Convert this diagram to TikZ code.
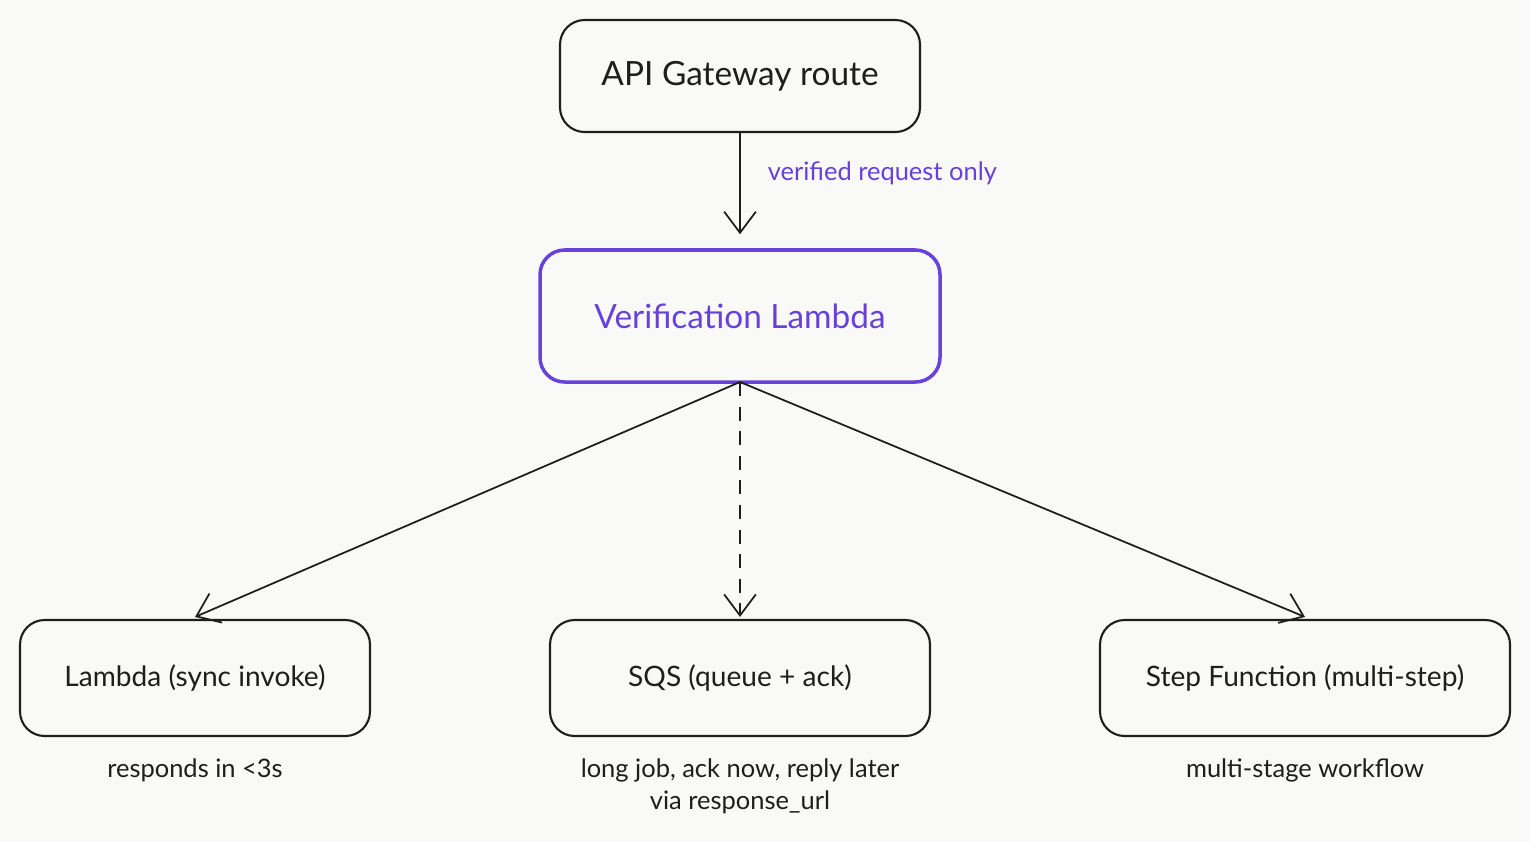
\documentclass[tikz,border=0pt]{standalone}
\usepackage{fontspec}
\setmainfont{Lato}
\usetikzlibrary{arrows.meta}
\definecolor{bg}{HTML}{F9F9F7}
\definecolor{purp}{HTML}{6741D9}
\definecolor{ink}{HTML}{1E1E1E}
\begin{document}
\begin{tikzpicture}[x=0.02cm,y=-0.02cm,
  box/.style={draw=ink,line width=1.2pt,rounded corners=14pt,fill=bg,font=\fontsize{16}{19}\selectfont,text=ink,inner sep=0pt},
  arr/.style={draw=ink,line width=1pt,-{Straight Barb[length=12pt,width=18pt]}},
  lab/.style={font=\fontsize{14.5}{18}\selectfont,text=ink,align=center}]
\fill[bg] (0,0) rectangle (1530,842);
\useasboundingbox (0,0) rectangle (1530,842);
\node[box,minimum width=360*0.02cm,minimum height=112*0.02cm] (api) at (740,76) {\fontsize{19}{22}\selectfont API Gateway route};
\node[box,draw=purp,line width=2pt,text=purp,minimum width=400*0.02cm,minimum height=132*0.02cm] (ver) at (740,316) {\fontsize{19}{22}\selectfont Verification Lambda};
\node[box,minimum width=350*0.02cm,minimum height=116*0.02cm] (lam) at (195,678) {Lambda (sync invoke)};
\node[box,minimum width=380*0.02cm,minimum height=116*0.02cm] (sqs) at (740,678) {SQS (queue + ack)};
\node[box,minimum width=410*0.02cm,minimum height=116*0.02cm] (sf) at (1305,678) {Step Function (multi-step)};
\coordinate (vb) at (740,382);
\draw[arr] (api.south) -- ([yshift=14*0.02cm]ver.north) node[midway,right,xshift=12pt,yshift=6pt,font=\fontsize{14.5}{18}\selectfont,text=purp] {verified request only};
\draw[arr] (vb) -- ([yshift=2*0.02cm]lam.north);
\draw[arr,dashed,dash pattern=on 8pt off 6pt] (vb) -- ([yshift=2*0.02cm]sqs.north);
\draw[arr] (vb) -- ([yshift=2*0.02cm]sf.north);
\node[lab] (l1) at (195,770) {responds in <3s};
\node[lab] (l2) at (740,786) {long job, ack now, reply later\\via response\_url};
\node[lab] (l3) at (1305,770) {multi-stage workflow};
\end{tikzpicture}
\end{document}
